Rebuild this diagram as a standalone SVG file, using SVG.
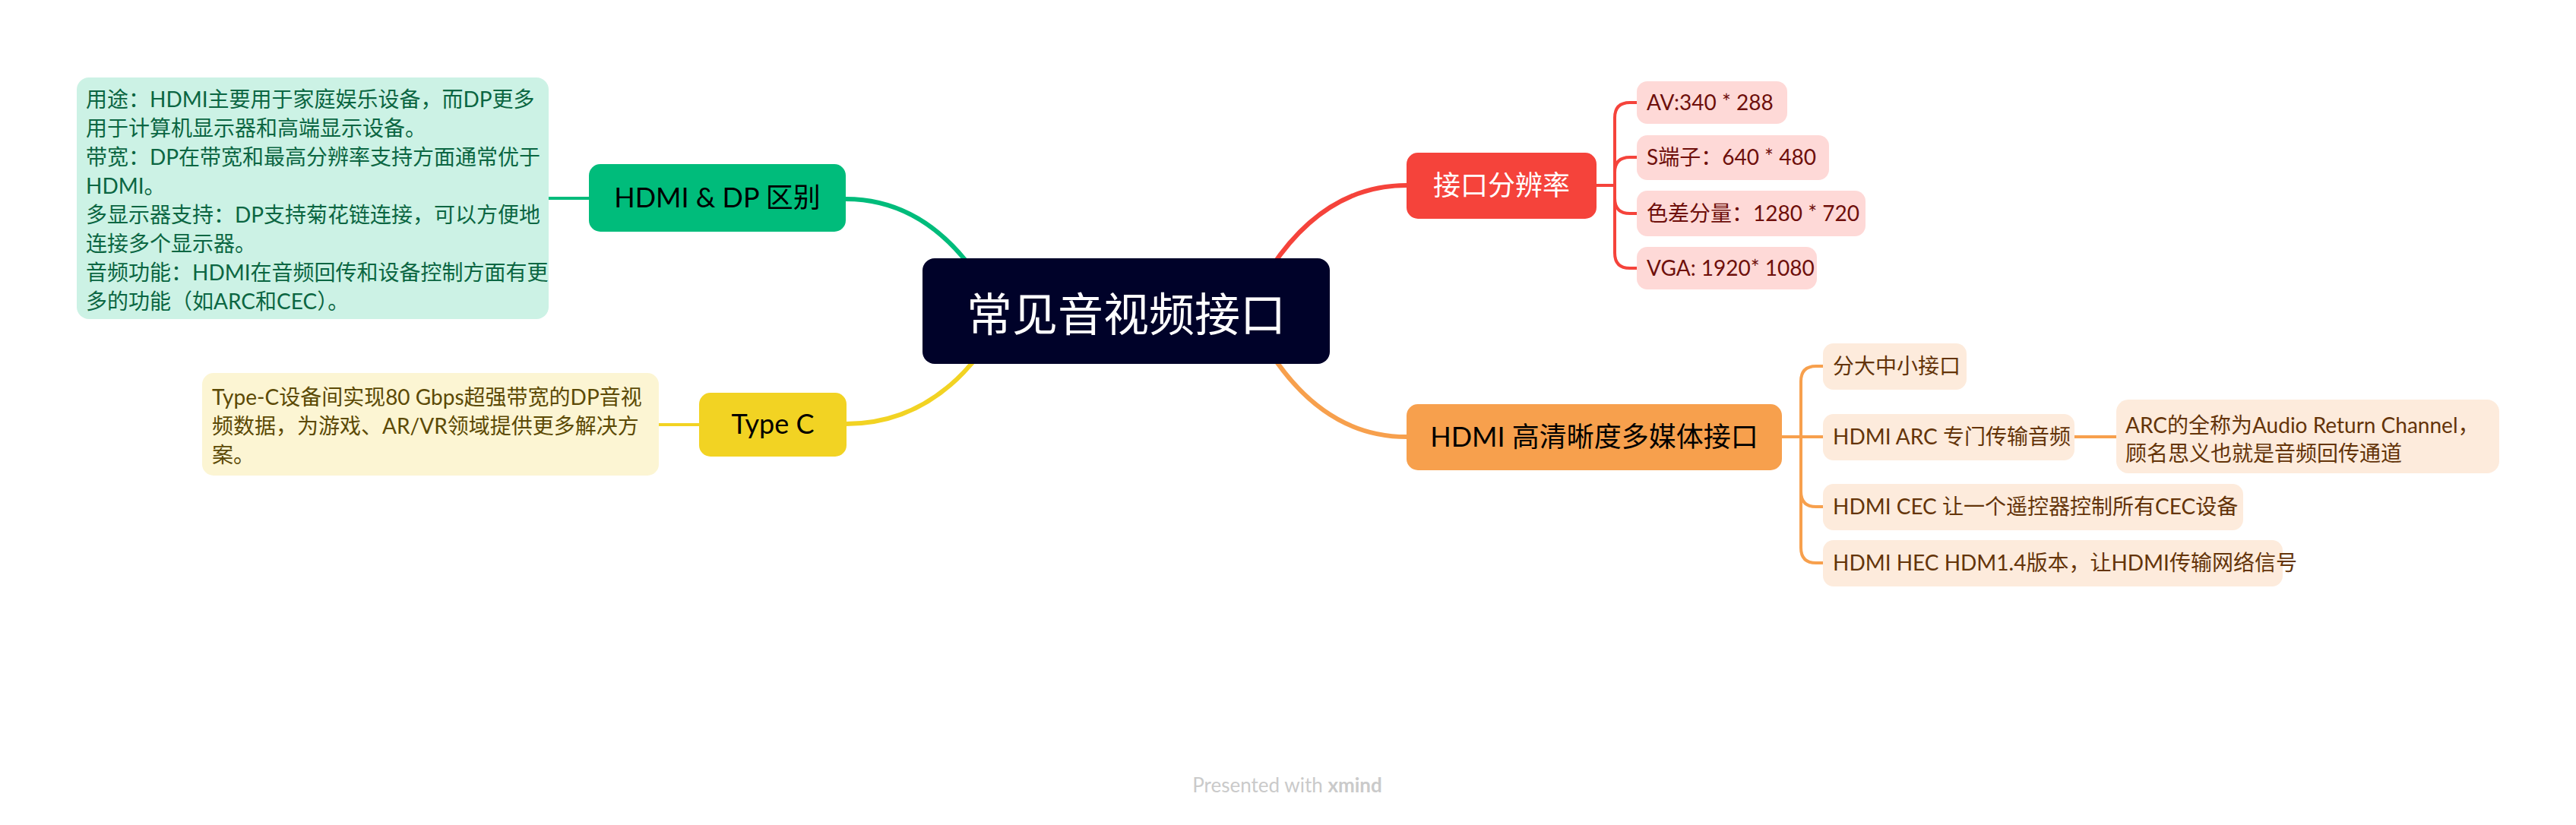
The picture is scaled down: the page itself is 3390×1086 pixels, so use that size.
<svg xmlns="http://www.w3.org/2000/svg" width="3390" height="1086" viewBox="0 0 3390 1086">
<style>
text{font-family:Lato,"Noto Sans CJK SC",sans-serif;}
.c{fill:none;stroke-linecap:round;}
.main{stroke-width:6;}
.sub{stroke-width:4;}
.g{stroke:#00BC7B}.r{stroke:#F5433B}.o{stroke:#F7A04D}.y{stroke:#F2D323}
.t36{font-size:36px;text-anchor:middle;}
.t28{font-size:28px;}
.gn{fill:#CCF2E5}.gt{fill:#0B6642}
.yn{fill:#FCF5D3}.yt{fill:#5C4A05}
.rn{fill:#FED9D7}.rt{fill:#6E0F0B}
.on{fill:#FDEBDC}.ot{fill:#643409}
</style>
<rect width="3390" height="1086" fill="#FFFFFF"/>
<g id="connectors">
<path class="c main g" d="M1113 262 Q1220 262 1292 372"/>
<path class="c main r" d="M1851 244 Q1745 244 1673 352"/>
<path class="c main y" d="M1113 558 Q1220 558 1292 462"/>
<path class="c main o" d="M1851 575 Q1745 575 1673 466"/>
<path class="c sub g" d="M776 261 H720"/>
<path class="c sub y" d="M920 559 H865"/>
<path class="c sub r" d="M2101 244 H2125 V155 Q2125 135 2145 135 H2156"/>
<path class="c sub r" d="M2125 244 V227 Q2125 207 2145 207 H2156"/>
<path class="c sub r" d="M2125 244 V261 Q2125 281 2145 281 H2156"/>
<path class="c sub r" d="M2125 244 V333 Q2125 353 2145 353 H2156"/>
<path class="c sub o" d="M2345 575 H2400"/>
<path class="c sub o" d="M2370 575 V502 Q2370 482 2390 482 H2400"/>
<path class="c sub o" d="M2370 575 V721 Q2370 741 2390 741 H2400"/>
<path class="c sub o" d="M2370 667 Q2370 667 2370 667 M2370 647 Q2370 667 2390 667 H2400"/>
<path class="c sub o" d="M2730 575 H2786"/>
</g>
<g id="central">
<rect x="1214" y="340" width="536" height="139" rx="16" fill="#000229"/>
<text x="1482" y="436" font-size="60" text-anchor="middle" fill="#FFFFFF">常见音视频接口</text>
</g>
<g id="hdmi-dp">
<rect x="775" y="216" width="338" height="89" rx="15" fill="#00BC7B"/>
<text class="t36" x="944" y="273" fill="#000000">HDMI &amp; DP 区别</text>
</g>
<g id="hdmi-dp-note">
<rect class="gn" x="101" y="102" width="621" height="318" rx="16"/>
<text class="t28 gt" x="113" y="141">
<tspan x="113" y="141">用途：HDMI主要用于家庭娱乐设备，而DP更多</tspan>
<tspan x="113" y="179">用于计算机显示器和高端显示设备。</tspan>
<tspan x="113" y="217">带宽：DP在带宽和最高分辨率支持方面通常优于</tspan>
<tspan x="113" y="255">HDMI。</tspan>
<tspan x="113" y="293">多显示器支持：DP支持菊花链连接，可以方便地</tspan>
<tspan x="113" y="331">连接多个显示器。</tspan>
<tspan x="113" y="369">音频功能：HDMI在音频回传和设备控制方面有更</tspan>
<tspan x="113" y="407">多的功能（如ARC和CEC）。</tspan>
</text>
</g>
<g id="typec">
<rect x="920" y="517" width="194" height="84" rx="15" fill="#F2D323"/>
<text class="t36" x="1017" y="571" fill="#000000">Type C</text>
</g>
<g id="typec-note">
<rect class="yn" x="266" y="491" width="601" height="135" rx="15"/>
<text class="t28 yt">
<tspan x="279" y="533">Type-C设备间实现80 Gbps超强带宽的DP音视</tspan>
<tspan x="279" y="571">频数据，为游戏、AR/VR领域提供更多解决方</tspan>
<tspan x="279" y="609">案。</tspan>
</text>
</g>
<g id="resolution">
<rect x="1851" y="201" width="250" height="87" rx="15" fill="#F5433B"/>
<text class="t36" x="1976" y="257" fill="#FFFFFF">接口分辨率</text>
</g>
<g id="res-av">
<rect class="rn" x="2154" y="107" width="198" height="56" rx="14"/>
<text class="t28 rt" x="2167" y="145">AV:340 * 288</text>
</g>
<g id="res-s">
<rect class="rn" x="2154" y="178" width="253" height="59" rx="14"/>
<text class="t28 rt" x="2167" y="217">S端子：640 * 480</text>
</g>
<g id="res-ypbpr">
<rect class="rn" x="2154" y="251" width="301" height="60" rx="14"/>
<text class="t28 rt" x="2167" y="291">色差分量：1280 * 720</text>
</g>
<g id="res-vga">
<rect class="rn" x="2154" y="325" width="237" height="56" rx="14"/>
<text class="t28 rt" x="2167" y="363">VGA: 1920* 1080</text>
</g>
<g id="hdmi">
<rect x="1851" y="532" width="494" height="87" rx="15" fill="#F7A04D"/>
<text class="t36" x="2098" y="588" fill="#000000">HDMI 高清晰度多媒体接口</text>
</g>
<g id="hdmi-size">
<rect class="on" x="2399" y="452" width="189" height="61" rx="14"/>
<text class="t28 ot" x="2412" y="492">分大中小接口</text>
</g>
<g id="hdmi-arc">
<rect class="on" x="2399" y="545" width="331" height="61" rx="14"/>
<text class="t28 ot" x="2412" y="585">HDMI ARC 专门传输音频</text>
</g>
<g id="hdmi-arc-note">
<rect class="on" x="2785" y="526" width="504" height="97" rx="16"/>
<text class="t28 ot">
<tspan x="2797" y="570">ARC的全称为Audio Return Channel，</tspan>
<tspan x="2797" y="607">顾名思义也就是音频回传通道</tspan>
</text>
</g>
<g id="hdmi-cec">
<rect class="on" x="2399" y="637" width="553" height="61" rx="14"/>
<text class="t28 ot" x="2412" y="677">HDMI CEC 让一个遥控器控制所有CEC设备</text>
</g>
<g id="hdmi-hec">
<rect class="on" x="2399" y="711" width="605" height="61" rx="14"/>
<text class="t28 ot" x="2412" y="751">HDMI HEC HDM1.4版本，让HDMI传输网络信号</text>
</g>
<text x="1694" y="1043" font-size="26" text-anchor="middle" fill="#CACACA" style="font-family:Lato,sans-serif">Presented with <tspan font-weight="bold">xmind</tspan></text>
</svg>
